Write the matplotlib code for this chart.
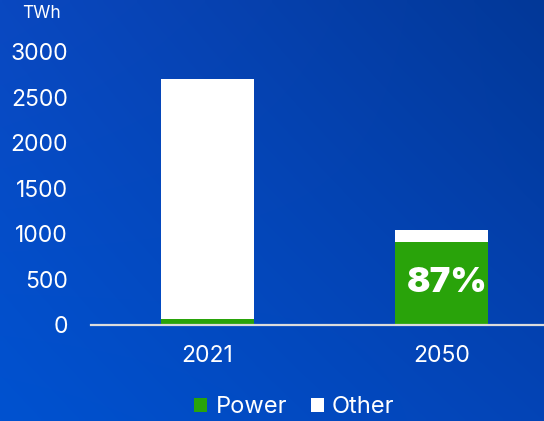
import numpy as np
import matplotlib
matplotlib.use('Agg')
import matplotlib.pyplot as plt

# electricity demand, TWh
years = ['2021', '2050']
power = [60, 905]
other = [2640, 135]
share_label = '87%'
yticks = [0, 500, 1000, 1500, 2000, 2500, 3000]

plt.rcParams['font.family'] = ['Inter', 'DejaVu Sans']

fig = plt.figure(figsize=(5.44, 4.21), dpi=100)

# blue background, brighter towards the bottom-left
bg = fig.add_axes([0, 0, 1, 1])
h, w = 100, 130
yy, xx = np.mgrid[0:1:h * 1j, 0:1:w * 1j]
tl = np.array([10, 72, 192]) / 255
tr = np.array([2, 56, 152]) / 255
bl = np.array([0, 82, 208]) / 255
br = np.array([4, 68, 182]) / 255
img = ((1 - yy)[..., None] * ((1 - xx)[..., None] * tl + xx[..., None] * tr)
       + yy[..., None] * ((1 - xx)[..., None] * bl + xx[..., None] * br))
bg.imshow(img, aspect='auto', extent=[0, 1, 0, 1], interpolation='bilinear')
bg.axis('off')

ax = fig.add_axes([0.1673, 0.2292, 0.8327, 0.6473])
ax.patch.set_alpha(0)

x = np.arange(len(years))
ax.bar(x, power, width=0.4, color='#29a30a', label='Power')
ax.bar(x, other, width=0.4, bottom=power, color='white', label='Other')

ax.text(x[1] + 0.025, power[1] / 2, share_label, ha='center', va='center',
        color='white', fontsize=25, fontweight='black')

ax.set_xlim(-0.498, 1.438)
ax.set_ylim(0, 3000)
ax.set_yticks(yticks)
ax.set_xticks(x)
ax.set_xticklabels(years)
ax.tick_params(axis='y', length=0, pad=16.5, labelsize=16.5, colors='white')
ax.tick_params(axis='x', length=0, pad=15, labelsize=16.5, colors='white')

for s in ['top', 'right', 'left']:
    ax.spines[s].set_visible(False)
ax.spines['bottom'].set_color('#dcdcdc')
ax.spines['bottom'].set_linewidth(1.6)

fig.text(0.04, 0.967, 'TWh', color='white', fontsize=12.5, va='center')

leg = fig.legend(loc='center', bbox_to_anchor=(0.541, 0.033), ncol=2, frameon=False,
                 prop={'size': 17}, handlelength=0.55,
                 handleheight=0.55, handletextpad=0.35, columnspacing=1.0)
for t in leg.get_texts():
    t.set_color('white')

fig.savefig('out.png', dpi=100)
